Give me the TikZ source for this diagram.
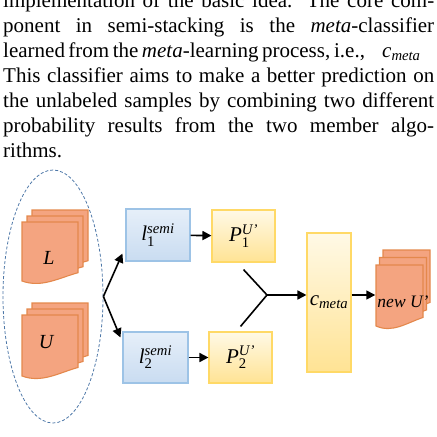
\documentclass[tikz,border=0pt]{standalone}
\usepackage{amsmath}
\usepackage{fontspec}
\setmainfont{Liberation Serif}
\usetikzlibrary{shapes.geometric, positioning, arrows.meta, calc}

\definecolor{docfill}{HTML}{F4A480}
\definecolor{docline}{HTML}{E4884C}
\definecolor{learnline}{HTML}{9DC3E6}
\definecolor{learntop}{HTML}{E6EFF9}
\definecolor{learnbot}{HTML}{C9DCF1}
\definecolor{probline}{HTML}{FFD966}
\definecolor{probtop}{HTML}{FFF9E6}
\definecolor{probbot}{HTML}{FFE394}
\definecolor{setline}{HTML}{4E78A8}

\tikzset{
  learner/.style={rectangle, draw=learnline, line width=1.1pt,
    top color=learntop, bottom color=learnbot, inner sep=0pt,
    minimum width=64pt, minimum height=52pt,
    font=\fontsize{21}{21}\selectfont},
  prob/.style   ={rectangle, draw=probline, line width=1.1pt,
    top color=probtop, bottom color=probbot, inner sep=0pt,
    minimum width=63pt, minimum height=52pt,
    font=\fontsize{21}{21}\selectfont},
  sheet/.style  ={fill=docfill, draw=docline, line width=1.1pt},
  doclabel/.style={inner sep=0pt, font=\fontsize{20}{20}\selectfont\itshape},
  dataset/.style={ellipse, draw=setline, line width=0.8pt,
    dash pattern=on 3pt off 2pt, inner sep=0pt},
  arrow/.style  ={line width=1.6pt, -{Triangle[length=9pt, width=9pt]}},
  link/.style   ={line width=1.6pt},
  paraline/.style={anchor=base west, inner sep=0pt,
    font=\fontsize{21}{25}\selectfont},
}

% one sheet: top left corner, width, height of the left side
\newcommand{\docsheet}[4]{%
  \filldraw[sheet] ({#1},{#2}) -- ({#1+#3},{#2}) -- ({#1+#3},{#2+0.86*#4})
    .. controls ({#1+0.65*#3},{#2+0.95*#4}) and ({#1+0.35*#3},{#2+1.12*#4})
    .. ({#1},{#2+#4}) -- cycle;}
% a stack of three sheets, front sheet given
\newcommand{\docstack}[6]{%
  \docsheet{#1+2*#5}{#2+2*#6}{#3}{#4}
  \docsheet{#1+#5}{#2+#6}{#3}{#4}
  \docsheet{#1}{#2}{#3}{#4}}

\begin{document}
\begin{tikzpicture}[x=1pt, y=-1pt]

  \path[use as bounding box] (0,0) rectangle (437,437);
  \clip (0,0) rectangle (437,437);

  % paragraph above the figure
  \node[paraline] (line1) at (3,7)
    {\makebox[431pt][s]{implementation of the basic idea. The core com-}};
  \node[paraline] (line2) at (3,32)
    {\makebox[431pt][s]{ponent in semi-stacking is the \textit{meta}-classifier}};
  \node[paraline] (line3) at (3,57)
    {\makebox[352pt][s]{learned from the \textit{meta}-learning process, i.e.,}};
  \node[paraline] (line3c) at (382,57) {\textit{c}$_{\textit{meta}}$};
  \node[paraline] (line4) at (3,82)
    {\makebox[431pt][s]{This classifier aims to make a better prediction on}};
  \node[paraline] (line5) at (3,107)
    {\makebox[431pt][s]{the unlabeled samples by combining two different}};
  \node[paraline] (line6) at (3,132)
    {\makebox[431pt][s]{probability results from the two member algo-}};
  \node[paraline] (line7) at (3,157) {rithms.};

  % labeled and unlabeled data
  \node[dataset, minimum width=100pt, minimum height=253pt] (data) at (53,296.5) {};
  \docstack{22}{222}{56}{59}{5}{-6}
  \docstack{22}{315}{56}{61}{5}{-6}
  \node[doclabel] (Lset) at (49,258) {L};
  \node[doclabel] (Uset) at (46,342) {U};

  % member learners and their probabilities
  \node[learner] (l1) at (158,235) {\textit{l}$_{\text{1}}^{\textit{semi}}$};
  \node[learner, minimum width=65pt, minimum height=51pt] (l2) at (155.5,357.5)
    {\textit{l}$_{\text{2}}^{\textit{semi}}$};
  \node[prob] (P1) at (243.5,236) {\textit{P}$_{\text{1}}^{\textit{U'}}$};
  \node[prob, minimum height=51pt] (P2) at (240.5,357.5)
    {\textit{P}$_{\text{2}}^{\textit{U'}}$};
  \node[prob, minimum width=44pt, minimum height=139pt] (cmeta) at (329,302.5)
    {\textit{c}$_{\textit{meta}}$};

  % new unlabeled data
  \docstack{376}{265}{47}{61}{3.5}{-7.5}
  \node[doclabel, font=\fontsize{17.5}{17.5}\selectfont\itshape] (newU) at (403,302) {new U'};

  \coordinate (join) at (267,295);

  \draw[arrow] (data.east) -- ([xshift=-3pt, yshift=8pt]l1.south west);
  \draw[arrow] (data.east) -- ([xshift=-2pt, yshift=-6pt]l2.north west);
  \draw[arrow] (l1) -- (P1);
  \draw[arrow] (l2) -- (P2);
  \draw[link] ([yshift=-7pt]P1.south) -- (join);
  \draw[link] ([yshift=5pt]P2.north) -- (join);
  \draw[arrow] (join) -- (join -| cmeta.west);
  \draw[arrow, shorten >=2pt] (cmeta.east |- join) -- (newU.west |- join);

\end{tikzpicture}
\end{document}
